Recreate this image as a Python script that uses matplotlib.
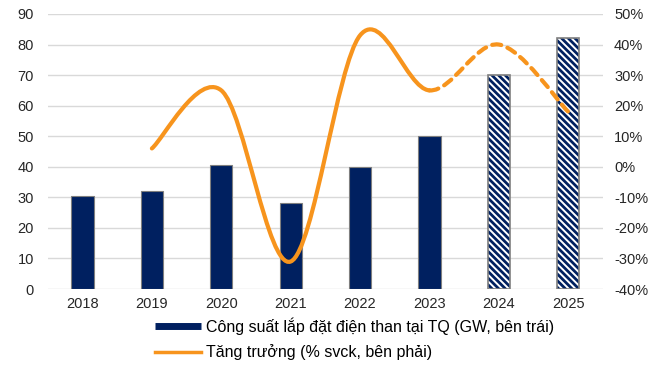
import numpy as np
import matplotlib.pyplot as plt
from matplotlib.path import Path
from matplotlib.patches import PathPatch
from matplotlib.lines import Line2D
from matplotlib.ticker import FuncFormatter

plt.rcParams['font.family'] = ['Liberation Sans', 'DejaVu Sans']
plt.rcParams['hatch.linewidth'] = 1.4

years = ['2018', '2019', '2020', '2021', '2022', '2023', '2024', '2025']
capacity = [30.5, 32.2, 40.5, 28.0, 40.0, 50.0, 70.0, 82.0]
growth_years = ['2019', '2020', '2021', '2022', '2023', '2024', '2025']
growth = [6, 25, -31, 43, 25, 40, 18]
n_actual = 6  # 2018-2023 actual, rest forecast

navy = '#002060'
orange = '#F7941D'
grid_c = '#d9d9d9'


def smooth_path(xs, ys):
    # cubic bezier through the points, Catmull-Rom style tangents
    verts = [(xs[0], ys[0])]
    codes = [Path.MOVETO]
    n = len(xs)
    for i in range(n - 1):
        x0, y0 = (xs[i - 1], ys[i - 1]) if i > 0 else (xs[i], ys[i])
        x1, y1 = xs[i], ys[i]
        x2, y2 = xs[i + 1], ys[i + 1]
        x3, y3 = (xs[i + 2], ys[i + 2]) if i + 2 < n else (x2, y2)
        c1 = (x1 + (x2 - x0) / 6, y1 + (y2 - y0) / 6)
        c2 = (x2 - (x3 - x1) / 6, y2 - (y3 - y1) / 6)
        verts += [c1, c2, (x2, y2)]
        codes += [Path.CURVE4] * 3
    return verts, codes


fig = plt.figure(figsize=(6.64, 3.67), dpi=100)
ax = fig.add_axes([0.072, 0.2125, 0.836, 0.7494])
ax2 = ax.twinx()

x = np.arange(len(years))
for i in range(len(years)):
    if i < n_actual:
        ax.bar(x[i], capacity[i], width=0.32, color=navy, edgecolor='#7f7f7f', linewidth=0.8, zorder=2)
    else:
        # white stripes on navy, then a grey outline on top
        ax.bar(x[i], capacity[i], width=0.32, color=navy, edgecolor='white', linewidth=0,
               hatch='\\\\\\\\\\', zorder=2)
        ax.bar(x[i], capacity[i], width=0.32, fill=False, edgecolor='#7f7f7f', linewidth=1.2, zorder=2)

ax.set_xlim(-0.5, len(years) - 0.5)
ax.set_ylim(0, 90)
ax.set_yticks(range(0, 91, 10))
ax.set_xticks(x)
ax.set_xticklabels(years)
ax.yaxis.grid(True, color=grid_c, linewidth=1)
ax.set_axisbelow(True)

ax2.set_ylim(-40, 50)
ax2.set_yticks(range(-40, 51, 10))
ax2.yaxis.set_major_formatter(FuncFormatter(lambda v, p: f'{int(v)}%'))

for a in (ax, ax2):
    for s in a.spines.values():
        s.set_visible(False)
    a.tick_params(length=0, labelsize=10.5, colors='#262626')
ax.tick_params(axis='x', pad=6)
ax.tick_params(axis='y', pad=10)
ax2.tick_params(axis='y', pad=8)

# growth line: solid for actual years, dashed for forecast
gx = [years.index(y) for y in growth_years]
verts, codes = smooth_path(gx, growth)
split = 1 + 3 * (n_actual - 2)
solid = Path(verts[:split], codes[:split])
dashed = Path([verts[split - 1]] + verts[split:], [Path.MOVETO] + codes[split:])
ax2.add_patch(PathPatch(solid, fill=False, edgecolor=orange, linewidth=3, capstyle='round', zorder=3))
ax2.add_patch(PathPatch(dashed, fill=False, edgecolor=orange, linewidth=3, linestyle=(0, (2.2, 1.6)),
                        capstyle='round', zorder=3))

handles = [Line2D([], [], color=navy, linewidth=5, solid_capstyle='butt'),
           Line2D([], [], color=orange, linewidth=2.5)]
labels = ['Công suất lắp đặt điện than tại TQ (GW, bên trái)',
          'Tăng trưởng (% svck, bên phải)']
fig.legend(handles, labels, loc='upper left', bbox_to_anchor=(0.233, 0.135), frameon=False,
           fontsize=11.5, handlelength=2.9, handletextpad=0.3, labelspacing=0.6,
           borderaxespad=0, borderpad=0)

fig.savefig('out.png', dpi=100)
